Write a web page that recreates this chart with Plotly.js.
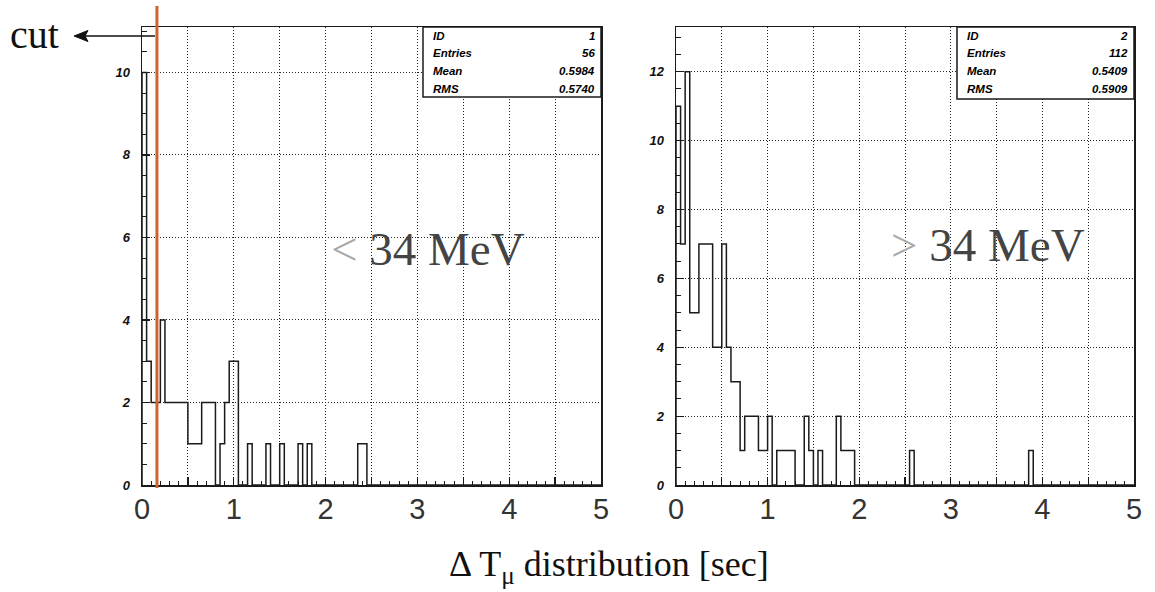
<!DOCTYPE html>
<html>
<head>
<meta charset="utf-8">
<script src="https://cdn.plot.ly/plotly-3.0.1.min.js"></script>
<style>html,body{margin:0;padding:0;background:#fff;}#chart{width:1155px;height:592px;}</style>
</head>
<body>
<div id="chart"></div>
<script>
// ---- data ----
const binWidth = 0.05;
const nBins = 100;
// left histogram (< 34 MeV): low edges of non-empty bins and counts
const leftLow    = [0.00,0.05,0.10,0.15,0.20,0.25,0.30,0.35,0.40,0.45,0.50,0.55,0.60,0.65,0.70,0.75,0.85,0.90,0.95,1.00,1.15,1.35,1.50,1.70,1.80,2.35,2.40];
const leftCounts = [10,  3,   2,   2,   4,   2,   2,   2,   2,   2,   1,   1,   1,   2,   2,   2,   1,   2,   3,   3,   1,   1,   1,   1,   1,   1,   1];
// right histogram (> 34 MeV)
const rightLow    = [0.00,0.05,0.10,0.15,0.20,0.25,0.30,0.35,0.40,0.45,0.50,0.55,0.60,0.65,0.70,0.75,0.80,0.85,0.90,0.95,1.00,1.10,1.15,1.20,1.25,1.40,1.45,1.55,1.75,1.80,1.85,1.90,2.55,3.85];
const rightCounts = [11,  7,   12,  5,   5,   7,   7,   7,   4,   4,   7,   4,   3,   3,   1,   2,   2,   2,   1,   1,   2,   1,   1,   1,   1,   2,   1,   1,   2,   1,   1,   1,   1,   1];
const statLabels = ['ID','Entries','Mean','RMS'];
const leftStats  = ['1','56','0.5984','0.5740'];
const rightStats = ['2','112','0.5409','0.5909'];
const xTickVals = [0,1,2,3,4,5];
const xTickText = ['0','1','2','3','4','5'];
const leftYTicks  = [0,2,4,6,8,10];
const rightYTicks = [0,2,4,6,8,10,12];
const cutValue = 0.163;
const leftLabel = '34 MeV';
const rightLabel = '34 MeV';
const axisTitle = 'Δ T<sub>μ</sub> distribution [sec]';

// ---- build outline ----
function outline(lows, counts){
  const full = new Array(nBins).fill(0);
  lows.forEach((l,i)=>{ full[Math.round(l/binWidth)] = counts[i]; });
  const xs=[0], ys=[0];
  for(let i=0;i<nBins;i++){ xs.push(i*binWidth); ys.push(full[i]); }
  xs.push(nBins*binWidth); ys.push(0);
  return {xs, ys};
}
const L = outline(leftLow, leftCounts);
const R = outline(rightLow, rightCounts);

const W=1155, H=592;
const px = v => v/W, py = v => 1 - v/H;

const lineStyle = {color:'#1a1a1a', width:1.5, shape:'hv'};
const traces = [
  {x:L.xs, y:L.ys, type:'scatter', mode:'lines', line:lineStyle, xaxis:'x', yaxis:'y', hoverinfo:'skip', showlegend:false},
  {x:R.xs, y:R.ys, type:'scatter', mode:'lines', line:lineStyle, xaxis:'x2', yaxis:'y2', hoverinfo:'skip', showlegend:false},
  // invisible helper traces carrying the fine 0.1 tick axes
  {x:[0,5], y:[0,0], type:'scatter', mode:'lines', line:{width:0, color:'rgba(0,0,0,0)'}, xaxis:'x3', yaxis:'y', hoverinfo:'skip', showlegend:false},
  {x:[0,5], y:[0,0], type:'scatter', mode:'lines', line:{width:0, color:'rgba(0,0,0,0)'}, xaxis:'x4', yaxis:'y2', hoverinfo:'skip', showlegend:false}
];

const gridDash = '1px,2px';
function xAxis(dom, anchor){
  return {domain:dom, anchor:anchor, range:[0,5], tickmode:'array', tickvals:xTickVals, ticktext:xTickText,
    ticks:'inside', ticklen:8, tickwidth:1.2, tickcolor:'#1a1a1a', showgrid:true, gridcolor:'#222', griddash:gridDash, gridwidth:1,
    showline:true, linecolor:'#1a1a1a', linewidth:1.5, mirror:true, zeroline:false, ticklabelstandoff:-2,
    tickfont:{family:'Liberation Sans, Arial, sans-serif', size:29, color:'#333'},
    minor:{tickmode:'linear', dtick:0.5, tick0:0, ticks:'inside', ticklen:8, tickwidth:1.2, tickcolor:'#1a1a1a', showgrid:true, gridcolor:'#222', griddash:gridDash, gridwidth:1}};
}
function fineAxis(dom, over, anchor){
  return {domain:dom, overlaying:over, anchor:anchor, side:'bottom', range:[0,5], tickmode:'linear', tick0:0, dtick:0.1,
    ticks:'inside', ticklen:4, tickwidth:1, tickcolor:'#1a1a1a', showticklabels:false, showgrid:false, showline:false, zeroline:false};
}
function yAxis(dom, anchor, range, vals){
  return {domain:dom, anchor:anchor, range:range, tickmode:'array', tickvals:vals,
    ticks:'inside', ticklen:8, tickwidth:1.2, tickcolor:'#1a1a1a', showgrid:true, gridcolor:'#222', griddash:gridDash, gridwidth:1,
    showline:true, linecolor:'#1a1a1a', linewidth:1.5, mirror:true, zeroline:false, ticklabelstandoff:8,
    tickfont:{family:'Liberation Sans, Arial, sans-serif', size:13, color:'#111', weight:'bold', style:'italic'},
    minor:{dtick:0.5, tick0:0, ticks:'inside', ticklen:5, tickwidth:1, tickcolor:'#1a1a1a', showgrid:false}};
}

const yDom = [py(485), py(27)];
const annotations = [];
const shapes = [];

function statBox(x0, x1, y1, vals){
  shapes.push({type:'rect', xref:'paper', yref:'paper', x0:px(x0), x1:px(x1), y0:py(y1), y1:py(27),
    line:{color:'#1a1a1a', width:1.5}, fillcolor:'#fff', layer:'above'});
  const rows=[36.5,53.5,71.5,89];
  statLabels.forEach((s,i)=>{
    annotations.push({xref:'paper', yref:'paper', x:px(x0+8), y:py(rows[i]), xanchor:'left', yanchor:'middle', showarrow:false,
      text:s, font:{family:'Liberation Sans, Arial', size:11.5, color:'#000', weight:'bold', style:'italic'}});
    annotations.push({xref:'paper', yref:'paper', x:px(x1-4), y:py(rows[i]), xanchor:'right', yanchor:'middle', showarrow:false,
      text:vals[i], font:{family:'Liberation Sans, Arial', size:11.5, color:'#000', weight:'bold', style:'italic'}});
  });
}
statBox(423, 601, 97, leftStats);
statBox(957, 1134, 99, rightStats);

// cut line
shapes.push({type:'line', xref:'x', yref:'paper', x0:cutValue, x1:cutValue, y0:py(488), y1:py(6),
  line:{color:'#cf6330', width:3}, layer:'above'});
// arrow pointing to the "cut" label
shapes.push({type:'line', xref:'paper', yref:'paper', x0:px(155), x1:px(84), y0:py(36), y1:py(36),
  line:{color:'#111', width:1.6}, layer:'above'});
shapes.push({type:'path', xref:'paper', yref:'paper', layer:'above',
  path:'M '+px(74)+','+py(36)+' L '+px(88)+','+py(30.5)+' L '+px(85)+','+py(36)+' L '+px(88)+','+py(41.5)+' Z',
  fillcolor:'#111', line:{color:'#111', width:1}});

annotations.push({xref:'paper', yref:'paper', x:px(8), y:py(34), xanchor:'left', yanchor:'middle', showarrow:false,
  text:'cut', font:{family:'Liberation Serif, Times New Roman, serif', size:40, color:'#111'}});

annotations.push({xref:'paper', yref:'paper', x:px(428), y:py(249), xanchor:'center', yanchor:'middle', showarrow:false,
  text:'<span style="color:#a8a8a8">&lt;</span> '+leftLabel, font:{family:'Liberation Serif, Times New Roman, serif', size:47, color:'#444'}});
annotations.push({xref:'paper', yref:'paper', x:px(988), y:py(245), xanchor:'center', yanchor:'middle', showarrow:false,
  text:'<span style="color:#a8a8a8">&gt;</span> '+rightLabel, font:{family:'Liberation Serif, Times New Roman, serif', size:47, color:'#444'}});

annotations.push({xref:'paper', yref:'paper', x:px(609), y:py(566), xanchor:'center', yanchor:'middle', showarrow:false,
  text:axisTitle, font:{family:'Liberation Serif, Times New Roman, serif', size:36, color:'#111'}});

const layout = {
  width:W, height:H, margin:{l:0,r:0,t:0,b:0}, paper_bgcolor:'#fff', plot_bgcolor:'#fff', showlegend:false,
  xaxis: xAxis([px(142), px(601)], 'y'),
  yaxis: yAxis(yDom, 'x', [0,11.1], leftYTicks),
  xaxis2: xAxis([px(676), px(1134)], 'y2'),
  yaxis2: yAxis(yDom, 'x2', [0,13.3], rightYTicks),
  xaxis3: fineAxis([px(142), px(601)], 'x', 'y'),
  xaxis4: fineAxis([px(676), px(1134)], 'x2', 'y2'),
  shapes: shapes, annotations: annotations
};
Plotly.newPlot('chart', traces, layout, {staticPlot:true});
</script>
</body>
</html>
